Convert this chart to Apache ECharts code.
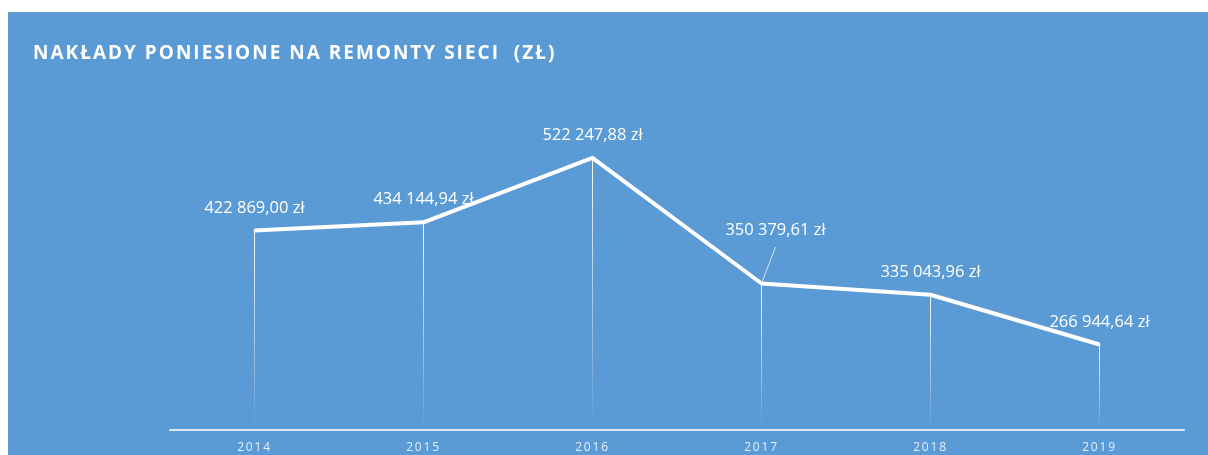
<!DOCTYPE html>
<html>
<head>
<meta charset="utf-8">
<script src="https://cdn.jsdelivr.net/npm/echarts@6/dist/echarts.min.js"></script>
<style>
  html, body { margin: 0; padding: 0; background: #ffffff; }
  #chart { width: 1208px; height: 455px; }
</style>
</head>
<body>
<div id="chart"></div>
<script>
const titleText = 'NAKŁADY PONIESIONE NA REMONTY SIECI  (ZŁ)';
const years = ['2014', '2015', '2016', '2017', '2018', '2019'];
const values = [422869.00, 434144.94, 522247.88, 350379.61, 335043.96, 266944.64];

// letter spacing for marked font families (canvas)
(function () {
  const P = CanvasRenderingContext2D.prototype;
  function applySp(ctx) {
    const f = ctx.font || '';
    let s = '0px';
    if (f.indexOf('spTitle') >= 0) s = '2px';
    else if (f.indexOf('spAxis') >= 0) s = '1.8px';
    if ('letterSpacing' in ctx && ctx.letterSpacing !== s) ctx.letterSpacing = s;
  }
  ['fillText', 'strokeText', 'measureText'].forEach(function (n) {
    const o = P[n];
    P[n] = function () { applySp(this); return o.apply(this, arguments); };
  });
})();

function fmt(v) {
  const parts = v.toFixed(2).split('.');
  const int = parts[0].replace(/\B(?=(\d{3})+(?!\d))/g, ' ');
  return int + ',' + parts[1] + ' zł';
}

const chart = echarts.init(document.getElementById('chart'), null, { renderer: 'canvas' });
const lineData = values.map((v, i) => {
  const d = { value: v };
  if (i === 3) {
    d.label = { offset: [14, -31] };
    d.labelLine = { show: true };
  }
  return d;
});

chart.setOption({
  backgroundColor: '#ffffff',
  animation: false,
  graphic: [{
    type: 'rect', left: 8, top: 12, z: -10,
    shape: { width: 1200, height: 443 },
    style: { fill: '#5B9BD5' }
  }],
  title: {
    text: titleText,
    left: 33, top: 43, padding: 0,
    textStyle: { color: '#ffffff', fontSize: 19, fontWeight: 'bold', fontFamily: '"Open Sans", spTitle' }
  },
  grid: { left: 170, right: 24, top: 101, bottom: 25 },
  xAxis: {
    type: 'category',
    data: years,
    boundaryGap: true,
    axisLine: { lineStyle: { color: '#dfe9f5', width: 2 } },
    axisTick: { show: false },
    axisLabel: { color: '#e6eef8', fontSize: 12, fontFamily: '"Open Sans", spAxis', margin: 11 }
  },
  yAxis: { type: 'value', min: 150000, max: 600000, show: false },
  series: [{
    type: 'bar',
    data: values,
    barWidth: 1,
    silent: true,
    itemStyle: {
      color: new echarts.graphic.LinearGradient(0, 0, 0, 1, [
        { offset: 0, color: 'rgba(255,255,255,0.95)' },
        { offset: 0.6, color: 'rgba(255,255,255,0.4)' },
        { offset: 1, color: 'rgba(255,255,255,0)' }
      ])
    }
  }, {
    type: 'line',
    data: lineData,
    showSymbol: true,
    symbol: 'circle',
    symbolSize: 2,
    itemStyle: { color: '#ffffff' },
    lineStyle: { color: '#ffffff', width: 4 },
    label: {
      show: true,
      position: 'top',
      distance: 13,
      color: '#ffffff',
      fontSize: 16.5,
      fontFamily: 'Open Sans',
      formatter: p => fmt(p.value)
    },
    labelLine: { show: false, lineStyle: { color: 'rgba(255,255,255,0.7)', width: 1 } },
    z: 3
  }]
});
</script>
</body>
</html>
